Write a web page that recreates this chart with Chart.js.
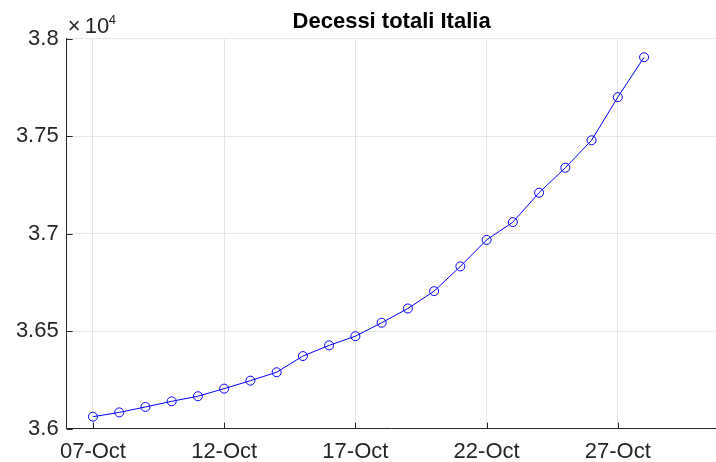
<!DOCTYPE html>
<html>
<head>
<meta charset="utf-8">
<script src="https://cdn.jsdelivr.net/npm/chart.js@4/dist/chart.umd.min.js"></script>
<style>
  html, body { margin: 0; padding: 0; background: #fff; overflow: hidden; }
  #wrap { position: relative; width: 722px; height: 462px; }
</style>
</head>
<body>
<div id="wrap"><canvas id="c"></canvas></div>
<script>
// day of October for each sample
const days = [7, 8, 9, 10, 11, 12, 13, 14, 15, 16, 17, 18, 19, 20, 21, 22, 23, 24, 25, 26, 27, 28];
// cumulative deaths
const deaths = [36061, 36083, 36111, 36140, 36166, 36205, 36246, 36289, 36372, 36427, 36474,
  36543, 36616, 36705, 36832, 36968, 37059, 37210, 37338, 37479, 37700, 37905];
const xTickDays = [7, 12, 17, 22, 27];
const xTickLabels = ["07-Oct", "12-Oct", "17-Oct", "22-Oct", "27-Oct"];

const FONT = "'Liberation Sans', Arial, Helvetica, sans-serif";
const AXIS = "#262626";
const GRID = "#e6e6e6";

// MATLAB-style inward ticks + x10^4 exponent label
const matlabBits = {
  id: "matlabBits",
  afterDraw(chart) {
    const { ctx, chartArea: a, scales } = chart;
    ctx.save();
    ctx.strokeStyle = AXIS;
    ctx.lineWidth = 1;
    ctx.beginPath();
    for (const d of xTickDays) {
      const x = Math.round(scales.x.getPixelForValue(d)) + 0.5;
      ctx.moveTo(x, a.bottom);
      ctx.lineTo(x, a.bottom - 6);
    }
    for (const t of scales.y.ticks) {
      const y = Math.round(scales.y.getPixelForValue(t.value)) + 0.5;
      ctx.moveTo(a.left, y);
      ctx.lineTo(a.left + 6, y);
    }
    ctx.stroke();

    ctx.fillStyle = AXIS;
    ctx.textBaseline = "alphabetic";
    ctx.textAlign = "left";
    ctx.font = "22px " + FONT;
    ctx.fillText("\u00d7", a.left + 1, 33);
    ctx.fillText("10", a.left + 18, 33);
    ctx.font = "13px " + FONT;
    ctx.fillText("4", a.left + 42, 24);
    ctx.restore();
  },
};

new Chart(document.getElementById("c"), {
  type: "line",
  data: {
    datasets: [{
      data: days.map((d, i) => ({ x: d, y: deaths[i] })),
      borderColor: "#0000ff",
      backgroundColor: "transparent",
      borderWidth: 1,
      tension: 0,
      pointStyle: "circle",
      pointRadius: 4.5,
      pointBorderWidth: 1,
      pointBorderColor: "#0000ff",
      pointBackgroundColor: "transparent",
    }],
  },
  options: {
    responsive: true,
    maintainAspectRatio: false,
    animation: false,
    layout: { padding: { left: 0, right: 0, top: 0, bottom: 0 } },
    plugins: {
      legend: { display: false },
      tooltip: { enabled: false },
      title: {
        display: true,
        text: "Decessi totali Italia",
        fullSize: false,
        color: "#000",
        font: { family: FONT, size: 22, weight: "bold", lineHeight: 1.2 },
        padding: { top: 9, bottom: 3.3 },
      },
    },
    scales: {
      x: {
        type: "linear",
        min: 6,
        max: 30.76,
        afterBuildTicks: (s) => { s.ticks = xTickDays.map((v) => ({ value: v })); },
        afterFit: (s) => { s.height = 33.4; },
        ticks: {
          autoSkip: false,
          maxRotation: 0,
          padding: 10,
          color: AXIS,
          font: { family: FONT, size: 22 },
          callback: (v) => xTickLabels[xTickDays.indexOf(v)],
        },
        grid: { color: GRID, drawTicks: false },
        border: { display: true, color: AXIS, width: 1 },
      },
      y: {
        min: 36000,
        max: 38000,
        afterFit: (s) => { s.width = 66.7; },
        ticks: {
          stepSize: 500,
          padding: 8,
          color: AXIS,
          font: { family: FONT, size: 22 },
          callback: (v) => String(+(v / 1e4).toFixed(2)),
        },
        grid: { color: GRID, drawTicks: false },
        border: { display: true, color: AXIS, width: 1 },
      },
    },
  },
  plugins: [matlabBits],
});
</script>
</body>
</html>
